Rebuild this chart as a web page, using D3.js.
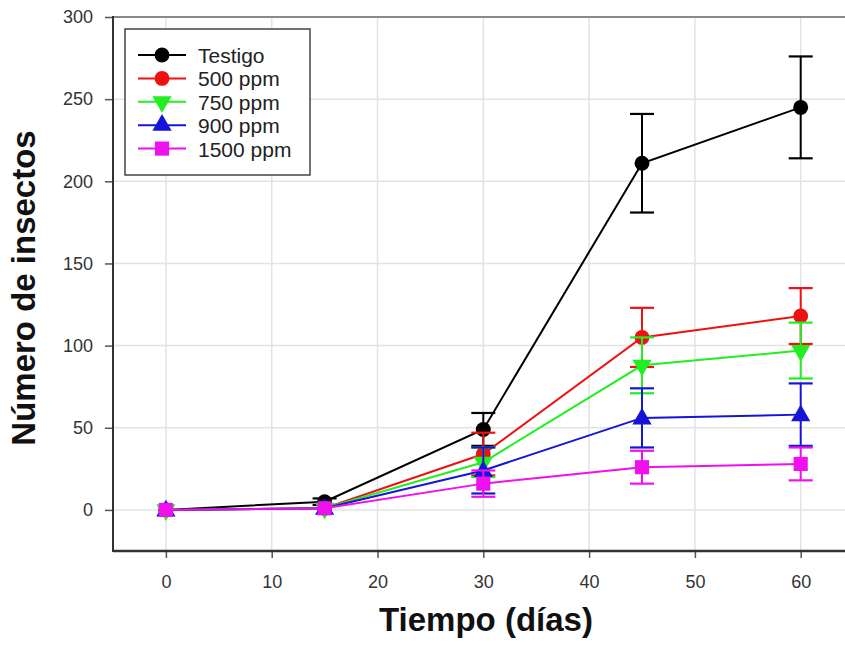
<!DOCTYPE html>
<html><head><meta charset="utf-8">
<script src="https://cdn.jsdelivr.net/npm/d3@7"></script>
<style>body{margin:0;background:#fff}svg{display:block}</style>
</head><body>
<script>
const days = [0, 15, 30, 45, 60];
const seriesNames = ["Testigo", "500 ppm", "750 ppm", "900 ppm", "1500 ppm"];
const testigo   = [0, 5, 49, 211, 245];
const ppm500    = [0, 1, 34, 105, 118];
const ppm750    = [0, 1, 29, 88, 97];
const ppm900    = [0, 1, 24, 56, 58];
const ppm1500   = [0, 1, 16, 26, 28];
const errTestigo = [0, 2, 10, 30, 31];
const err500     = [0, 1, 13, 18, 17];
const err750     = [0, 1, 9, 17, 17];
const err900     = [0, 1, 14, 18, 19];
const err1500    = [0, 1, 8, 10, 10];
const xTicks = [0, 10, 20, 30, 40, 50, 60];
const yTicks = [0, 50, 100, 150, 200, 250, 300];

const colors = ["#000000", "#ee1111", "#22ee22", "#1515d8", "#ee11ee"];
const shapes = [d3.symbolCircle, d3.symbolCircle, "down", d3.symbolTriangle, d3.symbolSquare];
const values = [testigo, ppm500, ppm750, ppm900, ppm1500];
const errs = [errTestigo, err500, err750, err900, err1500];

const W = 845, H = 650;
const FONT = "'Liberation Sans', Arial, sans-serif";
const svg = d3.select("body").append("svg").attr("width", W).attr("height", H)
  .style("font-family", FONT);

const x = d3.scaleLinear().domain([-5, 65]).range([113, 113 + 70 * 10.58]);
const y = d3.scaleLinear().domain([-25, 300]).range([551, 17]);
const right = W;

// gridlines
const g = svg.append("g");
g.selectAll(".gx").data(xTicks).join("line")
  .attr("x1", d => x(d)).attr("x2", d => x(d)).attr("y1", y(-25)).attr("y2", y(300))
  .attr("stroke", "#e3e3e3").attr("stroke-width", 1.5);
g.selectAll(".gy").data(yTicks).join("line")
  .attr("x1", 113).attr("x2", right).attr("y1", d => y(d)).attr("y2", d => y(d))
  .attr("stroke", "#e3e3e3").attr("stroke-width", 1.5);
// top frame
svg.append("line").attr("x1", 113).attr("x2", right).attr("y1", y(300)).attr("y2", y(300))
  .attr("stroke", "#8a8a8a").attr("stroke-width", 2);

// axes
const xAxis = d3.axisBottom(x).tickValues(xTicks).tickSize(7).tickPadding(17);
const yAxis = d3.axisLeft(y).tickValues(yTicks).tickSize(8).tickPadding(12);
const gx = svg.append("g").attr("transform", `translate(0,${y(-25)})`).call(xAxis);
gx.select(".domain").remove();
svg.append("line").attr("x1", 113).attr("x2", right).attr("y1", y(-25)).attr("y2", y(-25))
  .attr("stroke", "#333").attr("stroke-width", 2.5);
const gy = svg.append("g").attr("transform", "translate(113,0)").call(yAxis);
gy.select(".domain").remove();
svg.append("line").attr("x1", 113).attr("x2", 113).attr("y1", y(300) - 1).attr("y2", y(-25) + 1)
  .attr("stroke", "#333").attr("stroke-width", 2);
[gx, gy].forEach(a => {
  a.selectAll(".tick line").attr("stroke", "#555").attr("stroke-width", 1.5);
  a.selectAll(".tick text").attr("fill", "#333").style("font-size", "18px")
    .style("font-family", FONT);
});

function sym(shape, size) {
  if (shape === "down") return d3.symbol().type(d3.symbolTriangle).size(size)();
  return d3.symbol().type(shape).size(size)();
}
function markerPath(i) {
  const s = shapes[i];
  if (s === d3.symbolCircle) return sym(s, 175);
  if (s === d3.symbolSquare) return sym(s, 200);
  return sym(s, 160);
}

const line = d3.line().x(d => x(d[0])).y(d => y(d[1]));
values.forEach((vals, i) => {
  const c = colors[i];
  const gs = svg.append("g");
  const pts = days.map((d, k) => [d, vals[k], errs[i][k]]);
  gs.append("path").attr("d", line(pts)).attr("fill", "none").attr("stroke", c).attr("stroke-width", 2);
  const eb = gs.selectAll(".eb").data(pts.filter(p => p[2] > 1)).join("g");
  eb.append("line").attr("x1", p => x(p[0])).attr("x2", p => x(p[0]))
    .attr("y1", p => y(p[1] - p[2])).attr("y2", p => y(p[1] + p[2])).attr("stroke", c).attr("stroke-width", 2);
  [-1, 1].forEach(sg => {
    eb.append("line").attr("x1", p => x(p[0]) - 12).attr("x2", p => x(p[0]) + 12)
      .attr("y1", p => y(p[1] + sg * p[2])).attr("y2", p => y(p[1] + sg * p[2]))
      .attr("stroke", c).attr("stroke-width", 2.2);
  });
  gs.selectAll(".m").data(pts).join("path")
    .attr("d", markerPath(i))
    .attr("transform", p => `translate(${x(p[0])},${y(p[1]) + (shapes[i] === d3.symbolTriangle ? 1 : 0)})` + (shapes[i] === "down" ? " rotate(180)" : ""))
    .attr("fill", c);
});

// legend
const lg = svg.append("g");
lg.append("rect").attr("x", 125).attr("y", 29).attr("width", 185).attr("height", 146)
  .attr("fill", "#fff").attr("stroke", "#444").attr("stroke-width", 1.5);
seriesNames.forEach((n, i) => {
  const yy = 55 + i * 23.4;
  lg.append("line").attr("x1", 138).attr("x2", 186).attr("y1", yy).attr("y2", yy)
    .attr("stroke", colors[i]).attr("stroke-width", 2);
  lg.append("path").attr("d", markerPath(i))
    .attr("transform", `translate(162,${yy})` + (shapes[i] === "down" ? " rotate(180)" : ""))
    .attr("fill", colors[i]);
  lg.append("text").attr("x", 198).attr("y", yy + 8).text(n)
    .style("font-size", "21px").attr("fill", "#222");
});

// axis titles
svg.append("text").attr("transform", "translate(35,288) rotate(-90)")
  .attr("text-anchor", "middle").style("font-size", "33px").style("font-weight", "bold")
  .attr("fill", "#111").text("Número de insectos");
svg.append("text").attr("x", 486).attr("y", 631).attr("text-anchor", "middle")
  .style("font-size", "33px").style("font-weight", "bold").attr("fill", "#111").text("Tiempo (días)");
</script>
</body></html>
